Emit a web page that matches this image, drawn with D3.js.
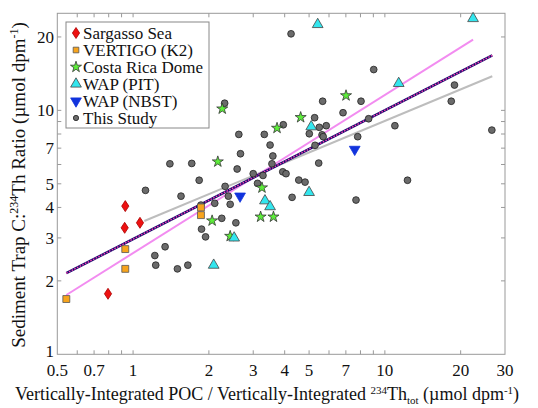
<!DOCTYPE html>
<html>
<head>
<meta charset="utf-8">
<script src="https://cdn.jsdelivr.net/npm/d3@7"></script>
<style>
  body { margin: 0; background: #fff; }
  svg text { font-family: "Liberation Serif", "DejaVu Serif", "Times New Roman", serif; fill: #111; }
</style>
</head>
<body>
<div id="chart"></div>
<script>
var w = 538;
var h = 408;

// data, [x, y]
var sargasso = [[0.931, 4.05], [0.926, 3.30], [1.065, 3.46], [0.795, 1.77]];
var vertigo = [[0.543, 1.685], [0.931, 2.70], [0.931, 2.24], [1.86, 4.00], [1.86, 3.72]];
var costaRica = [[2.26, 10.15], [2.17, 6.16], [3.73, 8.46], [4.63, 9.36], [7.01, 11.5],
    [3.25, 4.82], [2.06, 3.53], [3.21, 3.66], [3.61, 3.66], [2.43, 3.05]];
var wapPit = [[5.41, 22.5], [22.4, 23.8], [11.35, 12.9], [3.34, 4.26], [3.50, 4.03],
    [2.52, 3.0], [2.09, 2.32], [5.10, 8.57], [5.00, 4.61]];
var wapNbst = [[2.66, 4.45], [7.59, 6.92]];
var thisStudy = [[4.24, 20.6], [9.03, 14.7], [18.9, 12.7], [18.35, 10.9], [2.31, 10.7],
    [5.66, 10.9], [8.04, 10.9], [6.82, 9.78], [5.26, 9.33], [8.62, 9.24], [26.6, 8.3],
    [2.63, 7.97], [3.32, 7.97], [3.95, 8.73], [3.50, 7.21], [2.67, 6.64], [3.59, 6.5],
    [1.40, 6.04], [1.71, 6.06], [3.56, 6.04], [2.59, 5.75], [3.93, 5.6], [4.05, 5.5],
    [3.0, 5.5], [3.28, 5.41], [3.12, 5.02], [1.83, 5.17], [1.12, 4.70], [2.32, 4.88],
    [1.55, 4.45], [2.39, 4.45], [4.55, 5.18], [4.28, 4.40], [2.43, 4.12], [2.11, 4.16],
    [1.86, 4.09], [2.25, 3.61], [2.56, 3.46], [1.87, 3.26], [1.94, 3.03], [1.34, 2.76],
    [1.22, 2.54], [1.23, 2.32], [1.50, 2.24], [1.65, 2.32], [5.49, 8.52], [5.85, 8.65],
    [5.01, 8.02], [5.63, 7.94], [5.69, 7.8], [10.96, 8.65], [7.8, 7.8], [5.28, 7.19],
    [5.46, 6.08], [4.82, 5.08], [12.3, 5.17], [7.68, 4.29]];

// fitted lines (end points)
var fitPink = [[0.543, 1.75], [22.4, 19.5]];
var fitAll = [[0.543, 2.15], [26.7, 16.8]];
var fitGray = [[1.108, 3.52], [26.7, 13.8]];

var xTicks = [0.6, 0.7, 0.8, 0.9, 1, 2, 3, 4, 5, 6, 7, 8, 9, 10, 20];
var xLabels = [0.5, 0.7, 1, 2, 3, 4, 5, 7, 10, 20, 30];
var yTicks = [2, 3, 4, 5, 6, 7, 8, 9, 10, 20];
var yLabels = [1, 2, 3, 4, 5, 7, 10, 20];

var font = '"Liberation Serif", "DejaVu Serif", "Times New Roman", serif';

var svg = d3.select("#chart")
    .append("svg")
    .attr("width", w)
    .attr("height", h)
    .attr("font-family", font);

var x = d3.scaleLog().domain([0.5, 30]).range([57.3, 505]);
var y = d3.scaleLog().domain([1, 25]).range([354.3, 13.3]);

var x0 = x.range()[0], x1 = x.range()[1];
var y0 = y.range()[0], y1 = y.range()[1];

// ticks, inward on all four sides
var tk = 4;
var ticks = svg.append("g").attr("stroke", "#999").attr("stroke-width", 1);
xTicks.forEach(function(v) {
    ticks.append("line").attr("x1", x(v)).attr("x2", x(v)).attr("y1", y0).attr("y2", y0 - tk);
    ticks.append("line").attr("x1", x(v)).attr("x2", x(v)).attr("y1", y1).attr("y2", y1 + tk);
});
yTicks.forEach(function(v) {
    ticks.append("line").attr("x1", x0).attr("x2", x0 + tk).attr("y1", y(v)).attr("y2", y(v));
    ticks.append("line").attr("x1", x1).attr("x2", x1 - tk).attr("y1", y(v)).attr("y2", y(v));
});

svg.append("rect")
    .attr("x", x0).attr("y", y1)
    .attr("width", x1 - x0).attr("height", y0 - y1)
    .attr("fill", "none").attr("stroke", "#999").attr("stroke-width", 1);

svg.selectAll(".xl").data(xLabels).enter().append("text")
    .attr("x", function(d) { return x(d); })
    .attr("y", 376)
    .attr("text-anchor", "middle")
    .style("font-family", font)
    .style("font-size", "17px")
    .text(function(d) { return d; });

svg.selectAll(".yl").data(yLabels).enter().append("text")
    .attr("x", 54)
    .attr("y", function(d) { return y(d) + (d == 1 ? 3 : 6); })
    .attr("text-anchor", "end")
    .style("font-family", font)
    .style("font-size", "17px")
    .text(function(d) { return d; });

// axis titles
var xt = svg.append("text")
    .attr("x", 267).attr("y", 400)
    .attr("text-anchor", "middle")
    .style("font-family", font)
    .style("font-size", "18px");
xt.append("tspan").text("Vertically-Integrated POC / Vertically-Integrated ");
xt.append("tspan").attr("dy", -6).style("font-size", "11px").text("234");
xt.append("tspan").attr("dy", 6).text("Th");
xt.append("tspan").attr("dy", 4).style("font-size", "11px").text("tot");
xt.append("tspan").attr("dy", -4).text(" (µmol dpm");
xt.append("tspan").attr("dy", -6).style("font-size", "11px").text("-1");
xt.append("tspan").attr("dy", 6).text(")");

var yt = svg.append("text")
    .attr("transform", "translate(25,185) rotate(-90)")
    .attr("text-anchor", "middle")
    .style("font-family", font)
    .style("font-size", "19px");
yt.append("tspan").text("Sediment Trap C:");
yt.append("tspan").attr("dy", -7).style("font-size", "12px").text("234");
yt.append("tspan").attr("dy", 7).text("Th Ratio (µmol dpm");
yt.append("tspan").attr("dy", -7).style("font-size", "12px").text("-1");
yt.append("tspan").attr("dy", 7).text(")");

// fit lines
var line = d3.line()
    .x(function(d) { return x(d[0]); })
    .y(function(d) { return y(d[1]); });

svg.append("path").datum(fitGray).attr("d", line)
    .attr("fill", "none").attr("stroke", "#bdbdbd").attr("stroke-width", 2);
svg.append("path").datum(fitPink).attr("d", line)
    .attr("fill", "none").attr("stroke", "#f28cf0").attr("stroke-width", 2);
svg.append("path").datum(fitAll).attr("d", line)
    .attr("fill", "none").attr("stroke", "#1a0a6e").attr("stroke-width", 2.6);
svg.append("path").datum(fitAll).attr("d", line)
    .attr("fill", "none").attr("stroke", "#ff3fb0").attr("stroke-width", 1.4)
    .attr("stroke-dasharray", "1.5,1.5");

// marker shapes
var diamond = "M0,-5.5L3.6,0L0,5.5L-3.6,0Z";
var series = [
    { name: "Sargasso Sea", data: sargasso, path: diamond, fill: "#ee1111", stroke: "#aa0000" },
    { name: "VERTIGO (K2)", data: vertigo, path: d3.symbol(d3.symbolSquare, 48)(), fill: "#f7a41d", stroke: "#555" },
    { name: "Costa Rica Dome", data: costaRica, path: d3.symbol(d3.symbolStar, 38)(), fill: "#5ded3a", stroke: "#333" },
    { name: "WAP (PIT)", data: wapPit, path: d3.symbol(d3.symbolTriangle, 50)(), fill: "#33e6ee", stroke: "#444" },
    { name: "WAP (NBST)", data: wapNbst, path: d3.symbol(d3.symbolTriangle, 50)(), fill: "#1133dd", stroke: "#1133dd", rot: 180 },
    { name: "This Study", data: thisStudy, path: d3.symbol(d3.symbolCircle, 36)(), fill: "#6b6b6b", stroke: "#222" }
];

// draw circles first so coloured markers sit on top
var order = [5, 0, 1, 2, 3, 4];
order.forEach(function(i) {
    var s = series[i];
    svg.append("g").selectAll("path")
        .data(s.data)
        .enter()
        .append("path")
        .attr("d", s.path)
        .attr("transform", function(d) {
            return "translate(" + x(d[0]) + "," + y(d[1]) + ")" + (s.rot ? " rotate(" + s.rot + ")" : "");
        })
        .attr("fill", s.fill)
        .attr("stroke", s.stroke)
        .attr("stroke-width", 0.8);
});

// legend
var lg = svg.append("g").attr("transform", "translate(66,22)");
lg.append("rect")
    .attr("width", 143).attr("height", 106)
    .attr("fill", "#fff").attr("stroke", "#888").attr("stroke-width", 1);
var items = lg.selectAll(".item")
    .data(series)
    .enter()
    .append("g")
    .attr("transform", function(d, i) { return "translate(0," + (11 + i * 17) + ")"; });
items.append("path")
    .attr("d", function(d, i) {
        if (i == 5) return d3.symbol(d3.symbolCircle, 22)();
        if (i == 1) return d3.symbol(d3.symbolSquare, 32)();
        return d.path;
    })
    .attr("transform", function(d) { return "translate(10,0)" + (d.rot ? " rotate(180)" : ""); })
    .attr("fill", function(d) { return d.fill; })
    .attr("stroke", function(d) { return d.stroke; })
    .attr("stroke-width", 0.8);
items.append("text")
    .attr("x", 17)
    .attr("y", 6)
    .style("font-family", font)
    .style("font-size", "17px")
    .text(function(d) { return d.name; });
</script>
</body>
</html>
